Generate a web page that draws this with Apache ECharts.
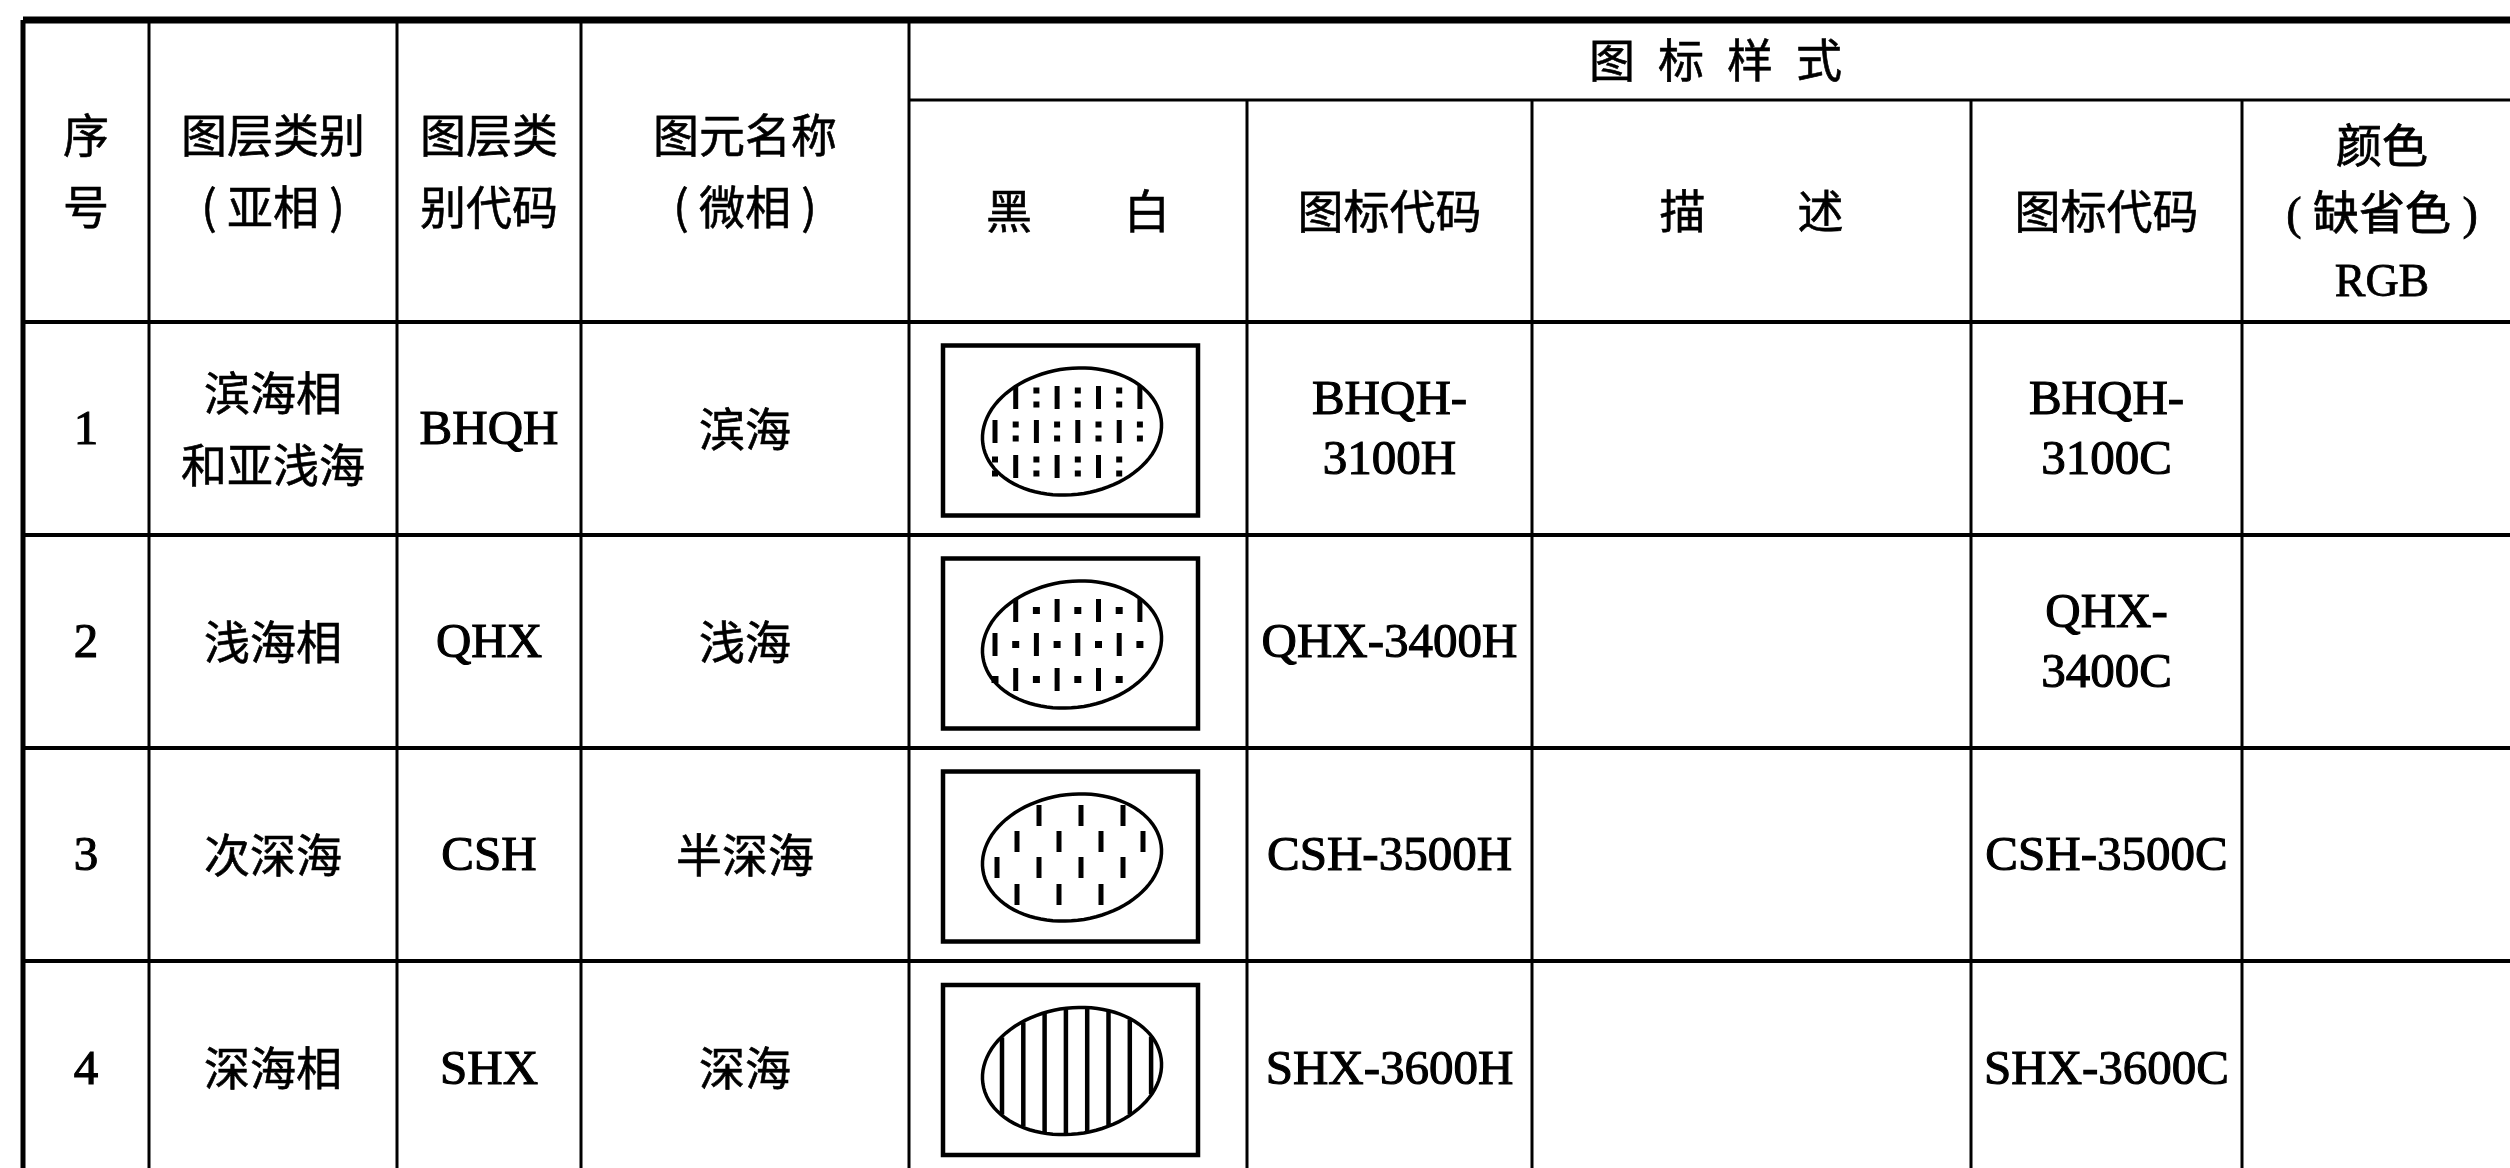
<!DOCTYPE html>
<html><head><meta charset="utf-8">
<script src="https://cdn.jsdelivr.net/npm/echarts@6/dist/echarts.min.js"></script>
<style>html,body{margin:0;padding:0;background:#fff}#main{width:2510px;height:1168px}</style>
</head><body><div id="main"></div>
<script>
// ---------- table content ----------
const seqNo = ['1', '2', '3', '4'];
const layerCategory = ['滨海相\n和亚浅海', '浅海相', '次深海', '深海相'];
const layerCode = ['BHQH', 'QHX', 'CSH', 'SHX'];
const elementName = ['滨海', '浅海', '半深海', '深海'];
const bwPattern = ['dashColon', 'dashDot', 'staggerDash', 'stripes'];
const bwIconCode = ['BHQH-\n3100H', 'QHX-3400H', 'CSH-3500H', 'SHX-3600H'];
const description = ['', '', '', ''];
const colorIconCode = ['BHQH-\n3100C', 'QHX-\n3400C', 'CSH-3500C', 'SHX-3600C'];
const defaultRGB = ['', '', '', ''];
const headerMain = ['序\n号', '图层类别\n( 亚相 )', '图层类\n别代码', '图元名称\n( 微相 )'];
const headerGroup = ['图\u2002标\u2002样\u2002式'];
const headerSub = ['黑　　白', '图标代码', '描　　述', '图标代码', '颜色\n( 缺省色 )\nRGB'];

// ---------- layout (positions in axis units) ----------
const colEdges = [23, 149, 397, 581, 909, 1247, 1532, 1971, 2242, 2522];
const rowEdges = [20, 100, 322, 535, 748, 961, 1175];

const CJK = '"Noto Sans CJK SC"';
const SERIF = '"Liberation Serif", "Noto Sans CJK SC"';
const fCJK = { font: '46px ' + CJK, lh: 72, dy: 0, sw: 0.6 };
const fCJKp = { font: '46px "Noto Sans CJK SC"', lh: 72, dy: 0, sw: 0.6 };
const fSerif = { font: '49px ' + SERIF, lh: 60, dy: 3, sw: 1.1 };
const fHeadMix = { font: '46px ' + SERIF, lh: 67, dy: 6, sw: 0.8 };

const gridLines = [];
gridLines.push([colEdges[0], rowEdges[0], colEdges[9], rowEdges[0], 7]);
gridLines.push([colEdges[4], rowEdges[1], colEdges[9], rowEdges[1], 3]);
for (let i = 2; i < rowEdges.length; i++) gridLines.push([colEdges[0], rowEdges[i], colEdges[9], rowEdges[i], 4]);
gridLines.push([colEdges[0], rowEdges[0], colEdges[0], rowEdges[6], 5]);
for (let i = 1; i <= 4; i++) gridLines.push([colEdges[i], rowEdges[0], colEdges[i], rowEdges[6], 3]);
for (let i = 5; i <= 8; i++) gridLines.push([colEdges[i], rowEdges[1], colEdges[i], rowEdges[6], 3]);

function textEl(api, x0, x1, y0, y1, text, f) {
  const p0 = api.coord([x0, y0]), p1 = api.coord([x1, y1]);
  return {
    type: 'text', x: (p0[0] + p1[0]) / 2, y: (p0[1] + p1[1]) / 2 + f.dy,
    style: { text: text, font: f.font, lineHeight: f.lh, align: 'center', verticalAlign: 'middle',
      fill: '#000', stroke: '#000', lineWidth: f.sw }
  };
}

function iconEl(api, kind, x0, x1, y0, y1) {
  const c = api.coord([(x0 + x1) / 2 - 8, (y0 + y1) / 2 + 2]);
  const kids = [];
  kids.push({ type: 'rect', shape: { x: c[0] - 127, y: c[1] - 85, width: 255, height: 170 },
    style: { fill: 'none', stroke: '#000', lineWidth: 4.5 } });
  const ex = c[0] + 2, ey = c[1] + 1, a = 90, b = 63, phi = -0.14;
  const cs = Math.cos(phi), sn = Math.sin(phi);
  const pts = [];
  for (let i = 0; i < 90; i++) {
    const t = i / 90 * Math.PI * 2;
    pts.push([ex + a * Math.cos(t) * cs - b * Math.sin(t) * sn, ey + a * Math.cos(t) * sn + b * Math.sin(t) * cs]);
  }
  kids.push({ type: 'polygon', shape: { points: pts }, style: { fill: '#fff', stroke: '#000', lineWidth: 3.5 } });
  const inside = (dx, dy, s) => {
    const u = dx * cs + dy * sn, v = -dx * sn + dy * cs;
    return (u * u) / (a * a) + (v * v) / (b * b) <= s;
  };
  const dash = (dx, dy, len) => kids.push({ type: 'rect', shape: { x: ex + dx - 2.5, y: ey + dy - len / 2, width: 5, height: len }, style: { fill: '#000' } });
  const sq = (dx, dy, s) => kids.push({ type: 'rect', shape: { x: ex + dx - s / 2, y: ey + dy - s / 2, width: s, height: s }, style: { fill: '#000' } });
  if (kind === 'dashColon' || kind === 'dashDot') {
    const rows = [-34, 0, 35];
    rows.forEach((dy, ri) => {
      for (let k = 0; k <= 8; k++) {
        const dx = -77 + 20.7 * k;
        if (!inside(dx, dy, 0.96)) continue;
        const isDash = (ri === 1) ? (k % 2 === 0) : (k % 2 === 1);
        if (isDash) dash(dx, dy, 23);
        else if (kind === 'dashColon') { sq(dx, dy - 7, 6); sq(dx, dy + 7, 6); }
        else sq(dx, dy, 7);
      }
    });
  } else if (kind === 'staggerDash') {
    const rows = [-42, -16, 10, 37];
    rows.forEach((dy, ri) => {
      const start = (ri % 2 === 0) ? -75 : -55;
      for (let k = 0; k <= 4; k++) {
        const dx = start + 42 * k;
        if (!inside(dx, dy, 0.85)) continue;
        dash(dx, dy, 21);
      }
    });
  } else if (kind === 'stripes') {
    const A = sn * sn / (a * a) + cs * cs / (b * b);
    for (let k = 0; k <= 7; k++) {
      const dx = -70 + 21.3 * k;
      const B = 2 * dx * (cs * sn / (a * a) - sn * cs / (b * b));
      const C = dx * dx * (cs * cs / (a * a) + sn * sn / (b * b)) - 1;
      const disc = B * B - 4 * A * C;
      if (disc <= 0) continue;
      const y1r = (-B - Math.sqrt(disc)) / (2 * A), y2r = (-B + Math.sqrt(disc)) / (2 * A);
      kids.push({ type: 'line', shape: { x1: ex + dx, y1: ey + y1r + 1, x2: ex + dx, y2: ey + y2r - 1 }, style: { stroke: '#000', lineWidth: 4.5 } });
    }
  }
  return { type: 'group', children: kids };
}

const chart = echarts.init(document.getElementById('main'), null, { renderer: 'canvas' });
chart.setOption({
  backgroundColor: '#fff',
  animation: false,
  grid: { left: 0, right: 0, top: 0, bottom: 0 },
  xAxis: { type: 'value', min: 0, max: 2510, show: false },
  yAxis: { type: 'value', min: 0, max: 1168, inverse: true, show: false },
  series: [
    {
      type: 'custom', name: 'rules', clip: false, silent: true,
      data: gridLines,
      renderItem: function (params, api) {
        const p1 = api.coord([api.value(0), api.value(1)]);
        const p2 = api.coord([api.value(2), api.value(3)]);
        return { type: 'line', shape: { x1: p1[0], y1: p1[1], x2: p2[0], y2: p2[1] },
          style: { stroke: '#000', lineWidth: api.value(4) } };
      }
    },
    {
      type: 'custom', name: 'header', clip: false, silent: true,
      data: [[0, 0]],
      renderItem: function (params, api) {
        const kids = [];
        headerMain.forEach((t, i) => kids.push(textEl(api, colEdges[i], colEdges[i + 1], rowEdges[0], rowEdges[2], t, fCJKp)));
        kids.push(textEl(api, colEdges[4], colEdges[9], rowEdges[0], rowEdges[1], headerGroup[0], fCJK));
        headerSub.forEach((t, i) => kids.push(textEl(api, colEdges[4 + i], colEdges[5 + i], rowEdges[1], rowEdges[2], t, i === 4 ? fHeadMix : fCJK)));
        return { type: 'group', children: kids };
      }
    },
    {
      type: 'custom', name: 'body', clip: false, silent: true,
      data: seqNo.map((s, i) => [i, i]),
      renderItem: function (params, api) {
        const r = params.dataIndex;
        const y0 = rowEdges[2 + r], y1 = rowEdges[3 + r];
        const cells = [seqNo[r], layerCategory[r], layerCode[r], elementName[r], null,
          bwIconCode[r], description[r], colorIconCode[r], defaultRGB[r]];
        const fonts = [fSerif, fCJK, fSerif, fCJK, null, fSerif, fCJK, fSerif, fSerif];
        const kids = [];
        cells.forEach((t, i) => {
          if (i === 4) kids.push(iconEl(api, bwPattern[r], colEdges[4], colEdges[5], y0, y1));
          else if (t) kids.push(textEl(api, colEdges[i], colEdges[i + 1], y0, y1, t, fonts[i]));
        });
        return { type: 'group', children: kids };
      }
    }
  ]
});
</script>
</body></html>
